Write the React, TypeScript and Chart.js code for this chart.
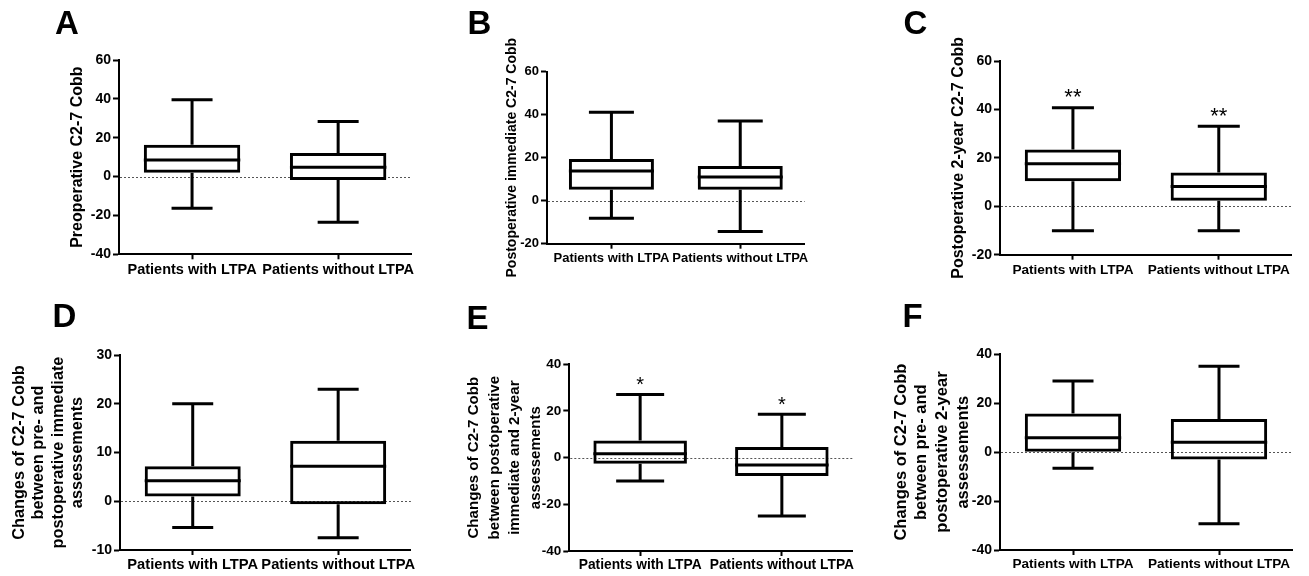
import React, { useEffect, useRef } from "react";
import { Chart, registerables } from "chart.js";

Chart.register(...registerables);

const FONT = '"Liberation Sans", Arial, Helvetica, sans-serif';

// ---------- data ----------
const categories = ["Patients with LTPA", "Patients without LTPA"];

// each row: [min, Q1, median, Q3, max]
const statsA = [
  [-16.3, 2.0, 8.5, 16.4, 39.6],
  [-23.5, -1.7, 4.8, 12.1, 28.4],
];
const statsB = [
  [-8.2, 5.1, 13.8, 19.4, 41.1],
  [-14.3, 5.1, 11.0, 16.1, 37.1],
];
const statsC = [
  [-10.1, 10.3, 17.6, 23.4, 40.7],
  [-10.1, 2.3, 8.2, 13.9, 33.0],
];
const statsD = [
  [-5.4, 1.0, 4.2, 7.2, 20.0],
  [-7.5, -0.6, 7.2, 12.4, 23.0],
];
const statsE = [
  [-10.0, -2.6, 1.7, 7.3, 27.1],
  [-25.0, -7.9, -3.1, 4.6, 18.6],
];
const statsF = [
  [-6.6, 0.0, 5.9, 15.8, 29.1],
  [-29.3, -3.0, 4.0, 13.6, 35.1],
];

// [min, max, step]
const yTicksA = [-40, 60, 20];
const yTicksB = [-20, 60, 20];
const yTicksC = [-20, 60, 20];
const yTicksD = [-10, 30, 10];
const yTicksE = [-40, 40, 20];
const yTicksF = [-40, 40, 20];

const yTitleA = "Preoperative C2-7 Cobb";
const yTitleB = "Postoperative immediate C2-7 Cobb";
const yTitleC = "Postoperative 2-year C2-7 Cobb";
const yTitleD = ["Changes of C2-7 Cobb", "between pre- and", "postoperative immediate", "assessements"];
const yTitleE = ["Changes of C2-7 Cobb", "between postoperative", "immediate and 2-year", "assessements"];
const yTitleF = ["Changes of C2-7 Cobb", "between pre- and", "postoperative 2-year", "assessements"];

const marksNone = ["", ""];
const marksC = ["**", "**"];
const marksE = ["*", "*"];

const letters = ["A", "B", "C", "D", "E", "F"];

// ---------- layout / style ----------
type Panel = {
  letter: string;
  stats: number[][];
  ticks: number[];
  title: string | string[];
  marks: string[];
  left: number; top: number; width: number; height: number;
  L: number; T: number; R: number; B: number;
  titleSize: number; titleLH: number; titleCenter: number;
  tickSize: number; labelSize: number; labelPad: number;
  capW: number; markSize: number;
  letterX: number; letterY: number;
};

const panels: Panel[] = [
  { letter: letters[0], stats: statsA, ticks: yTicksA, title: yTitleA, marks: marksNone,
    left: 0, top: 0, width: 417, height: 286, L: 119, T: 60, R: 413, B: 254.3,
    titleSize: 16, titleLH: 19.2, titleCenter: 77.6, tickSize: 14, labelSize: 14.5, labelPad: 2,
    capW: 41, markSize: 22, letterX: 55, letterY: 10 },
  { letter: letters[1], stats: statsB, ticks: yTicksB, title: yTitleB, marks: marksNone,
    left: 440, top: 0, width: 371, height: 286, L: 547, T: 71.7, R: 808, B: 243.7,
    titleSize: 14, titleLH: 16.8, titleCenter: 71.8, tickSize: 13, labelSize: 13, labelPad: 2,
    capW: 45, markSize: 22, letterX: 467.6, letterY: 10.5 },
  { letter: letters[2], stats: statsC, ticks: yTicksC, title: yTitleC, marks: marksC,
    left: 870, top: 0, width: 427, height: 286, L: 1000, T: 61, R: 1291.7, B: 254.7,
    titleSize: 16, titleLH: 19.2, titleCenter: 88.6, tickSize: 14, labelSize: 13.6, labelPad: 2,
    capW: 42, markSize: 22, letterX: 903.4, letterY: 10 },
  { letter: letters[3], stats: statsD, ticks: yTicksD, title: yTitleD, marks: marksNone,
    left: 0, top: 286, width: 417, height: 290, L: 120, T: 355, R: 413, B: 550,
    titleSize: 16.3, titleLH: 19.5, titleCenter: 19.5, tickSize: 14, labelSize: 14.7, labelPad: 1,
    capW: 41, markSize: 22, letterX: 52.6, letterY: 303 },
  { letter: letters[4], stats: statsE, ticks: yTicksE, title: yTitleE, marks: marksE,
    left: 440, top: 286, width: 417, height: 290, L: 569.3, T: 364.3, R: 852.7, B: 551,
    titleSize: 15.1, titleLH: 20.6, titleCenter: 33.8, tickSize: 13.5, labelSize: 13.8, labelPad: 1,
    capW: 48, markSize: 20, letterX: 466.6, letterY: 305 },
  { letter: letters[5], stats: statsF, ticks: yTicksF, title: yTitleF, marks: marksNone,
    left: 870, top: 286, width: 427, height: 290, L: 1000, T: 354.3, R: 1292, B: 550,
    titleSize: 16.5, titleLH: 20.8, titleCenter: 31, tickSize: 14, labelSize: 13.6, labelPad: 1.5,
    capW: 41, markSize: 22, letterX: 902.6, letterY: 303 },
];

function makeBoxPlugin(p: Panel) {
  return {
    id: "boxExtras",
    beforeDatasetsDraw(chart: any) {
      const ctx = chart.ctx;
      const y = chart.scales.y;
      const ca = chart.chartArea;
      const py = y.getPixelForValue(0);
      ctx.save();
      ctx.strokeStyle = "#555";
      ctx.lineWidth = 1;
      ctx.setLineDash([2, 2]);
      ctx.beginPath();
      ctx.moveTo(ca.left + 1, Math.round(py) + 0.5);
      ctx.lineTo(ca.right, Math.round(py) + 0.5);
      ctx.stroke();
      ctx.restore();
    },
    afterDatasetsDraw(chart: any) {
      const ctx = chart.ctx;
      const y = chart.scales.y;
      const meta = chart.getDatasetMeta(0);
      ctx.save();
      ctx.strokeStyle = "#000";
      ctx.lineWidth = 3;
      ctx.lineCap = "butt";
      p.stats.forEach((s, i) => {
        const el = meta.data[i];
        const x = el.x;
        const w = el.width;
        const yMin = y.getPixelForValue(s[0]);
        const yQ1 = y.getPixelForValue(s[1]);
        const yMed = y.getPixelForValue(s[2]);
        const yQ3 = y.getPixelForValue(s[3]);
        const yMax = y.getPixelForValue(s[4]);
        ctx.beginPath();
        // median
        ctx.moveTo(x - w / 2, yMed);
        ctx.lineTo(x + w / 2, yMed);
        // whiskers
        ctx.moveTo(x, yQ3);
        ctx.lineTo(x, yMax);
        ctx.moveTo(x, yQ1);
        ctx.lineTo(x, yMin);
        // caps
        ctx.moveTo(x - p.capW / 2, yMax);
        ctx.lineTo(x + p.capW / 2, yMax);
        ctx.moveTo(x - p.capW / 2, yMin);
        ctx.lineTo(x + p.capW / 2, yMin);
        ctx.stroke();
        const m = p.marks[i];
        if (m) {
          ctx.fillStyle = "#000";
          ctx.font = `${p.markSize}px ${FONT}`;
          ctx.textAlign = "center";
          ctx.textBaseline = "alphabetic";
          ctx.fillText(m, x, yMax - 3.5);
        }
      });
      ctx.restore();
    },
  };
}

function PanelChart({ p }: { p: Panel }) {
  const ref = useRef<HTMLCanvasElement | null>(null);
  useEffect(() => {
    if (!ref.current) return;
    const chart = new Chart(ref.current, {
      type: "bar",
      data: {
        labels: categories,
        datasets: [
          {
            data: p.stats.map((s) => [s[1], s[3]]) as any,
            backgroundColor: "rgba(0,0,0,0)",
            borderColor: "#000",
            borderWidth: 3,
            borderSkipped: false,
            barPercentage: 0.66,
            categoryPercentage: 1,
          },
        ],
      },
      options: {
        animation: false,
        responsive: false,
        maintainAspectRatio: false,
        devicePixelRatio: 1,
        events: [],
        layout: {
          padding: {
            left: 0,
            top: p.T - p.top,
            right: p.left + p.width - p.R,
            bottom: 0,
          },
        },
        plugins: {
          legend: { display: false },
          tooltip: { enabled: false },
          title: { display: false },
        },
        scales: {
          x: {
            type: "category",
            offset: true,
            grid: {
              offset: false,
              drawOnChartArea: false,
              drawTicks: true,
              tickLength: 5,
              tickColor: "#000",
              tickWidth: 2,
              color: "#000",
            },
            border: { display: true, color: "#000", width: 2 },
            ticks: {
              color: "#000",
              font: { family: FONT, size: p.labelSize, weight: "bold" },
              padding: p.labelPad,
              maxRotation: 0,
              minRotation: 0,
              autoSkip: false,
            },
            afterFit: (s: any) => {
              s.height = p.top + p.height - p.B;
            },
          },
          y: {
            type: "linear",
            min: p.ticks[0],
            max: p.ticks[1],
            ticks: {
              stepSize: p.ticks[2],
              color: "#000",
              font: { family: FONT, size: p.tickSize, weight: "bold" },
              padding: 2,
            },
            grid: {
              drawOnChartArea: false,
              drawTicks: true,
              tickLength: 6,
              tickColor: "#000",
              tickWidth: 2,
              color: "#000",
            },
            border: { display: true, color: "#000", width: 2 },
            title: {
              display: true,
              text: p.title as any,
              color: "#000",
              font: {
                family: FONT,
                size: p.titleSize,
                weight: "bold",
                lineHeight: `${p.titleLH}px` as any,
              },
              padding: { top: p.titleCenter - p.titleLH / 2, bottom: 0 },
            },
            afterFit: (s: any) => {
              s.width = p.L - p.left;
            },
          },
        },
      } as any,
      plugins: [makeBoxPlugin(p)],
    });
    return () => chart.destroy();
  }, [p]);
  return (
    <canvas
      ref={ref}
      width={p.width}
      height={p.height}
      style={{ position: "absolute", left: p.left, top: p.top, width: p.width, height: p.height }}
    />
  );
}

export default function App() {
  const letterSize = 33;
  // cap-top offset inside a line-height:1 box for Liberation Sans bold
  const capOffset = letterSize * ((1 - 1.117) / 2 + 0.905 - 0.716);
  return (
    <div
      style={{
        position: "absolute",
        left: 0,
        top: 0,
        width: 1309,
        height: 576,
        background: "#fff",
        overflow: "hidden",
      }}
    >
      {panels.map((p) => (
        <PanelChart key={p.letter} p={p} />
      ))}
      {panels.map((p) => (
        <div
          key={"l" + p.letter}
          style={{
            position: "absolute",
            left: p.letterX,
            top: p.letterY - capOffset,
            fontFamily: FONT,
            fontWeight: "bold",
            fontSize: letterSize,
            lineHeight: 1,
            color: "#000",
          }}
        >
          {p.letter}
        </div>
      ))}
    </div>
  );
}
